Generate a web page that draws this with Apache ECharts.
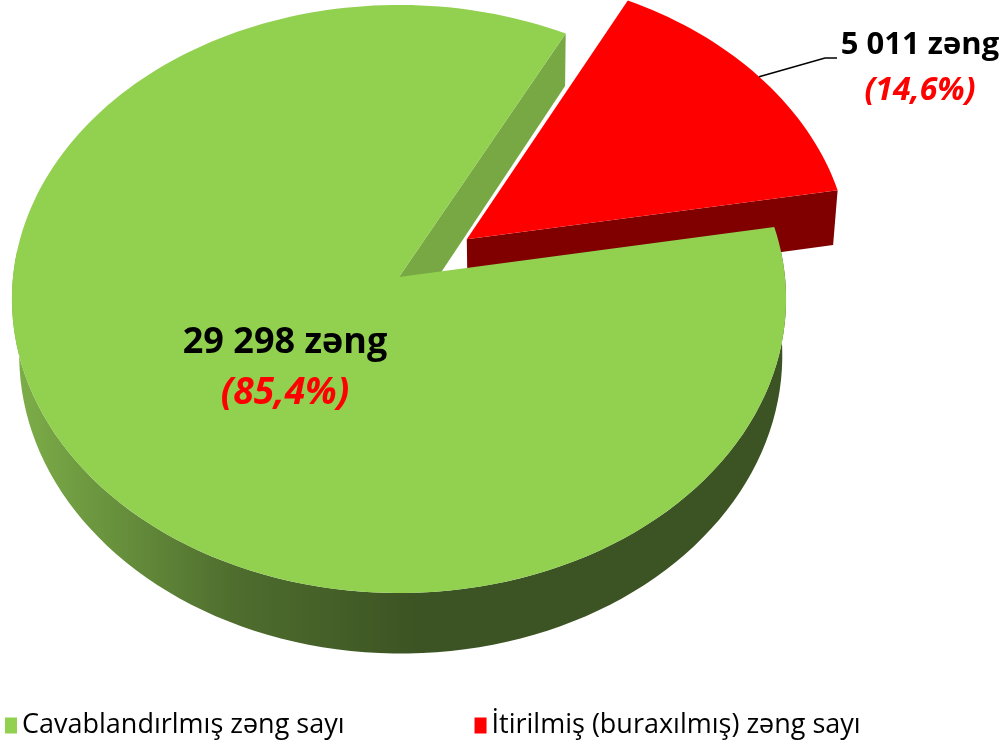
<!DOCTYPE html>
<html>
<head>
<meta charset="utf-8">
<script src="https://cdn.jsdelivr.net/npm/echarts@6/dist/echarts.min.js"></script>
<style>
html, body { margin: 0; padding: 0; background: #fff; }
#chart { width: 1004px; height: 742px; }
</style>
</head>
<body>
<div id="chart"></div>
<script>
var categories = ['Cavablandırlmış zəng sayı', 'İtirilmiş (buraxılmış) zəng sayı'];
var calls = [29298, 5011];
var unit = 'zəng';

// colours and geometry of the tilted pie
var topColors = ['#92D050', '#FF0000'];
var cutColors = ['#78A843', '#800000'];
var explode = [0, 0.22];
var startAngle = 80;              // degrees, clockwise from the back
var cx = 399, cy = 277, rx = 386, ry = 292.4, persp = 0.0748, depth = 56;
var vanishX = 522, converge = 0.0143;   // vertical edges lean in a little
var labelAt = [[285, 368], [920, 68]];
var fontFamily = '"Open Sans", "Noto Sans", sans-serif';

var total = calls.reduce(function (a, b) { return a + b; }, 0);

function fmtNum(v) {
    return String(v).replace(/\B(?=(\d{3})+(?!\d))/g, ' ');
}
function fmtPct(v) {
    return (v / total * 100).toFixed(1).replace('.', ',') + '%';
}

// plane (u, v) -> screen, v = -1 back, +1 front, h = drop below the top face
function project(u, v, h) {
    h = h || 0;
    var w = 1 - persp * v;
    var x = cx + rx * u / w;
    x += (vanishX - x) * converge * h / depth;
    return [x, cy + (ry * v + h) / w];
}
function rim(phi, off, h) {
    var a = phi * Math.PI / 180;
    return project(off[0] + Math.sin(a), off[1] - Math.cos(a), h);
}
function sliceAngles(i) {
    var s = startAngle;
    for (var k = 0; k < i; k++) s += calls[k] / total * 360;
    return [s, s + calls[i] / total * 360];
}

function cutFace(phi, off, color) {
    return {
        type: 'polygon', z2: 1,
        shape: { points: [project(off[0], off[1], 0), rim(phi, off, 0), rim(phi, off, depth), project(off[0], off[1], depth)] },
        style: { fill: color }
    };
}

function renderSlice(i) {
    return function (params, api) {
        var ang = sliceAngles(i), a0 = ang[0], a1 = ang[1];
        var mid = (a0 + a1) / 2;
        var mr = mid * Math.PI / 180;
        var off = [explode[i] * Math.sin(mr), -explode[i] * Math.cos(mr)];
        var children = [];
        var k, n;

        // outer wall, front half only
        var w0 = Math.max(a0, 85), w1 = Math.min(a1, 275);
        if (w1 > w0) {
            var up = [], down = [];
            n = Math.ceil((w1 - w0) / 2);
            for (k = 0; k <= n; k++) {
                var p = w0 + (w1 - w0) * k / n;
                up.push(rim(p, off, 0));
                down.unshift(rim(p, off, depth));
            }
            children.push({
                type: 'polygon', z2: 1,
                shape: { points: up.concat(down) },
                style: {
                    fill: i === 0 ? {
                        type: 'linear', x: 12, y: 0, x2: 420, y2: 0, global: true,
                        colorStops: [{ offset: 0, color: '#7EAF49' }, { offset: 0.55, color: '#4E6D2E' }, { offset: 1, color: '#3C5323' }]
                    } : cutColors[i]
                }
            });
        }

        // radial cut faces that face the viewer
        if (Math.sin(a1 * Math.PI / 180) > 0) children.push(cutFace(a1, off, cutColors[i]));
        if (Math.sin(a0 * Math.PI / 180) < 0) children.push(cutFace(a0, off, cutColors[i]));

        // top face
        var pts = [project(off[0], off[1], 0)];
        n = Math.max(8, Math.ceil((a1 - a0) / 1.5));
        for (k = 0; k <= n; k++) pts.push(rim(a0 + (a1 - a0) * k / n, off, 0));
        children.push({ type: 'polygon', z2: 2, shape: { points: pts }, style: { fill: topColors[i] } });

        // label
        var big = i === 0 ? 36 : 31;
        var lh = i === 0 ? 50 : 46;
        children.push({
            type: 'text', z2: 5,
            style: {
                x: labelAt[i][0], y: labelAt[i][1],
                align: 'center', verticalAlign: 'middle',
                text: '{v|' + fmtNum(calls[i]) + ' ' + unit + '}\n{p|(' + fmtPct(calls[i]) + ')}',
                rich: {
                    v: { fontFamily: fontFamily, fontWeight: 'bold', fontSize: big, fill: '#000', lineHeight: lh },
                    p: { fontFamily: fontFamily, fontWeight: 'bold', fontStyle: 'italic', fontSize: big + 1, fill: '#FF0000', lineHeight: lh }
                }
            }
        });
        if (i === 1) {
            children.push({
                type: 'polyline', z2: 4,
                shape: { points: [rim(mid, off, 0), [825, 58], [837, 58]] },
                style: { stroke: '#000', lineWidth: 1.5, fill: null }
            });
        }
        return { type: 'group', children: children };
    };
}

var chart = echarts.init(document.getElementById('chart'));
var series = categories.map(function (name, i) {
    return {
        name: name,
        type: 'custom',
        coordinateSystem: 'none',
        z: i === 0 ? 3 : 2,
        silent: true,
        itemStyle: { color: topColors[i] },
        data: [calls[i]],
        renderItem: renderSlice(i)
    };
});

chart.setOption({
    animation: false,
    legend: {
        data: categories,
        left: 0,
        top: 707,
        icon: 'rect',
        itemWidth: 12,
        itemHeight: 16,
        itemGap: 130,
        selectedMode: false,
        textStyle: { fontFamily: fontFamily, fontSize: 27, color: '#000' }
    },
    series: series
});
window.onresize = chart.resize;
</script>
</body>
</html>
